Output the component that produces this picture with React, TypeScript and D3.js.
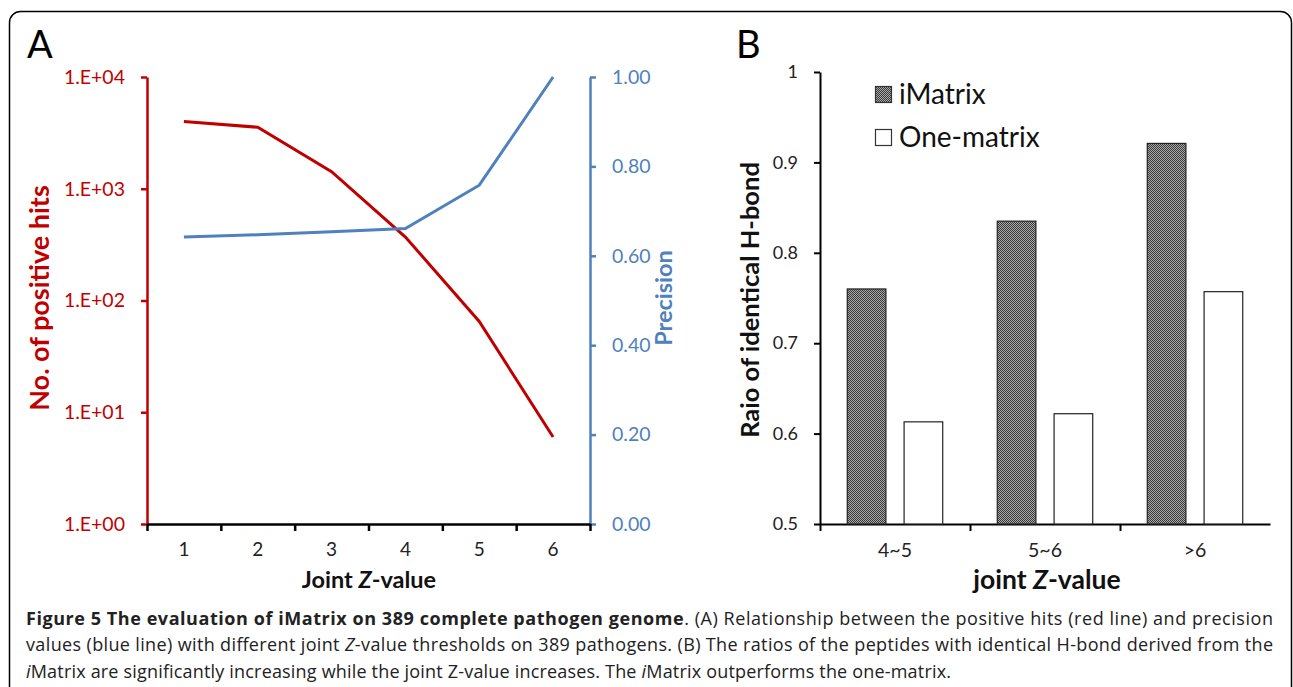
import React, { useRef, useEffect } from 'react';
import * as d3 from 'd3';

// Panel A data
const zValues = ['1', '2', '3', '4', '5', '6'];
const positiveHits = [4000, 3550, 1420, 370, 65, 6];
const precision = [0.642, 0.647, 0.654, 0.661, 0.758, 1.0];
const hitTicks = [1, 10, 100, 1000, 10000];
const precisionTicks = [0, 0.2, 0.4, 0.6, 0.8, 1.0];

// Panel B data
const zBins = ['4~5', '5~6', '>6'];
const seriesNames = ['iMatrix', 'One-matrix'];
const iMatrixRatio = [0.76, 0.835, 0.921];
const oneMatrixRatio = [0.613, 0.622, 0.757];
const ratioTicks = [0.5, 0.6, 0.7, 0.8, 0.9, 1];

const RED = '#c00000';
const BLUE = '#4f81bd';
const FONT = 'Lato, "Open Sans", sans-serif';
const CAP_FONT = '"Open Sans", Lato, sans-serif';

export default function App() {
  const svgRef = useRef<SVGSVGElement>(null);

  useEffect(() => {
    const svg = d3.select(svgRef.current);
    svg.selectAll('*').remove();

    // pattern for iMatrix bars
    const defs = svg.append('defs');
    const pat = defs.append('pattern')
      .attr('id', 'dots')
      .attr('width', 2).attr('height', 2)
      .attr('patternUnits', 'userSpaceOnUse');
    pat.append('rect').attr('width', 2).attr('height', 2).attr('fill', '#aaaaaa');
    pat.append('rect').attr('width', 1).attr('height', 1).attr('fill', '#383838');
    pat.append('rect').attr('x', 1).attr('y', 1).attr('width', 1).attr('height', 1).attr('fill', '#383838');

    // frame
    svg.append('rect')
      .attr('x', 9.5).attr('y', 11.5)
      .attr('width', 1282).attr('height', 720)
      .attr('rx', 11)
      .attr('fill', 'none')
      .attr('stroke', '#000')
      .attr('stroke-width', 1.5);

    // ---------- Panel A ----------
    svg.append('text').attr('x', 27).attr('y', 58)
      .style('font-family', FONT).style('font-size', '38px').text('A');

    const xA = d3.scaleBand().domain(zValues).range([147, 590]);
    const xAEdges = d3.scaleLinear().domain([0, zValues.length]).range([147, 590]);
    const yHits = d3.scaleLog().domain([1, 10000]).range([524, 77]);
    const yPrec = d3.scaleLinear().domain([0, 1]).range([524, 77]);

    const leftAxis = svg.append('g')
      .attr('transform', 'translate(147,0)')
      .call(d3.axisLeft(yHits).tickValues(hitTicks)
        .tickFormat(d => `1.E+0${Math.round(Math.log10(+d))}`)
        .tickSize(6).tickSizeOuter(0).tickPadding(16));
    leftAxis.selectAll('path, line').attr('stroke', RED).attr('stroke-width', 2.5);
    leftAxis.selectAll('text').attr('fill', RED)
      .style('font-family', FONT).style('font-size', '19.5px');

    const rightAxis = svg.append('g')
      .attr('transform', 'translate(590,0)')
      .call(d3.axisRight(yPrec).tickValues(precisionTicks)
        .tickFormat(d3.format('.2f'))
        .tickSize(6).tickSizeOuter(0).tickPadding(16));
    rightAxis.selectAll('path, line').attr('stroke', BLUE).attr('stroke-width', 2.5);
    rightAxis.selectAll('text').attr('fill', BLUE)
      .style('font-family', FONT).style('font-size', '19.5px');

    // x axis: boundary ticks + centered labels
    const xTicks = svg.append('g')
      .attr('transform', 'translate(0,524)')
      .call(d3.axisBottom(xAEdges).tickValues(d3.range(zValues.length + 1))
        .tickFormat(() => '').tickSize(7).tickSizeOuter(0));
    xTicks.selectAll('path, line').attr('stroke', '#000').attr('stroke-width', 2.5);
    const xLabels = svg.append('g')
      .attr('transform', 'translate(0,524)')
      .call(d3.axisBottom(xA).tickSize(0).tickPadding(19));
    xLabels.select('.domain').remove();
    xLabels.selectAll('text').attr('fill', '#222')
      .style('font-family', FONT).style('font-size', '19px');

    const cx = (d: string) => (xA(d) as number) + xA.bandwidth() / 2;

    const hitLine = d3.line<number>()
      .x((_, i) => cx(zValues[i]))
      .y(d => yHits(d));
    svg.append('path').datum(positiveHits)
      .attr('d', hitLine)
      .attr('fill', 'none').attr('stroke', RED).attr('stroke-width', 3);

    const precLine = d3.line<number>()
      .x((_, i) => cx(zValues[i]))
      .y(d => yPrec(d));
    svg.append('path').datum(precision)
      .attr('d', precLine)
      .attr('fill', 'none').attr('stroke', BLUE).attr('stroke-width', 3);

    // titles
    const tA = svg.append('text').attr('x', 369).attr('y', 588)
      .attr('text-anchor', 'middle')
      .style('font-family', FONT).style('font-size', '23.5px').style('font-weight', 'bold')
      .attr('fill', '#111');
    tA.append('tspan').text('Joint ');
    tA.append('tspan').style('font-style', 'italic').text('Z');
    tA.append('tspan').text('-value');

    svg.append('text')
      .attr('transform', 'translate(49,298) rotate(-90)')
      .attr('text-anchor', 'middle')
      .attr('fill', RED)
      .style('font-family', FONT).style('font-size', '27px').style('font-weight', 'bold')
      .text('No. of positive hits');

    svg.append('text')
      .attr('transform', 'translate(672,298) rotate(-90)')
      .attr('text-anchor', 'middle')
      .attr('fill', BLUE)
      .style('font-family', FONT).style('font-size', '23.5px').style('font-weight', 'bold')
      .text('Precision');

    // ---------- Panel B ----------
    svg.append('text').attr('x', 736).attr('y', 58)
      .style('font-family', FONT).style('font-size', '38px').text('B');

    const xB = d3.scaleBand().domain(zBins).range([820, 1270]);
    const xSub = d3.scaleBand().domain(seriesNames).range([0, xB.bandwidth()])
      .paddingInner(0.32).paddingOuter(0.48);
    const yB = d3.scaleLinear().domain([0.5, 1]).range([524, 72]);

    const yAxisB = svg.append('g')
      .attr('transform', 'translate(820,0)')
      .call(d3.axisLeft(yB).tickValues(ratioTicks)
        .tickFormat(d => String(+d))
        .tickSize(6).tickSizeOuter(0).tickPadding(16));
    yAxisB.selectAll('path, line').attr('stroke', '#000').attr('stroke-width', 2);
    yAxisB.selectAll('text').attr('fill', '#222')
      .style('font-family', FONT).style('font-size', '18px');

    const xEdgesB = d3.scaleLinear().domain([0, zBins.length]).range([820, 1270]);
    const xTicksB = svg.append('g')
      .attr('transform', 'translate(0,524)')
      .call(d3.axisBottom(xEdgesB).tickValues([0, 1, 2])
        .tickFormat(() => '').tickSize(7).tickSizeOuter(0));
    xTicksB.selectAll('path, line').attr('stroke', '#000').attr('stroke-width', 2);
    const xLabelsB = svg.append('g')
      .attr('transform', 'translate(0,524)')
      .call(d3.axisBottom(xB).tickSize(0).tickPadding(19));
    xLabelsB.select('.domain').remove();
    xLabelsB.selectAll('text').attr('fill', '#222')
      .style('font-family', FONT).style('font-size', '19.5px');

    const barData = zBins.flatMap((bin, i) => [
      { bin, series: seriesNames[0], value: iMatrixRatio[i] },
      { bin, series: seriesNames[1], value: oneMatrixRatio[i] },
    ]);
    svg.append('g').selectAll('rect')
      .data(barData)
      .enter()
      .append('rect')
      .attr('x', d => (xB(d.bin) as number) + (xSub(d.series) as number))
      .attr('y', d => yB(d.value))
      .attr('width', xSub.bandwidth())
      .attr('height', d => 524 - yB(d.value))
      .attr('fill', d => d.series === 'iMatrix' ? 'url(#dots)' : '#fff')
      .attr('stroke', '#222')
      .attr('stroke-width', 1.2);

    // legend
    const legend = svg.append('g').attr('transform', 'translate(875,86)');
    seriesNames.forEach((name, i) => {
      const g = legend.append('g').attr('transform', `translate(0,${i * 43})`);
      g.append('rect').attr('x', 0.5).attr('y', 0.5).attr('width', 16).attr('height', 16)
        .attr('fill', i === 0 ? 'url(#dots)' : '#fff')
        .attr('stroke', '#333').attr('stroke-width', 1.2);
      g.append('text').attr('x', 24).attr('y', 18)
        .attr('fill', '#111')
        .style('font-family', FONT).style('font-size', '28px')
        .text(name);
    });

    const tB = svg.append('text').attr('x', 1047).attr('y', 589)
      .attr('text-anchor', 'middle')
      .style('font-family', FONT).style('font-size', '26.5px').style('font-weight', 'bold')
      .attr('fill', '#111');
    tB.append('tspan').text('joint ');
    tB.append('tspan').style('font-style', 'italic').text('Z');
    tB.append('tspan').text('-value');

    svg.append('text')
      .attr('transform', 'translate(759,300) rotate(-90)')
      .attr('text-anchor', 'middle')
      .attr('fill', '#111')
      .style('font-family', FONT).style('font-size', '25.5px').style('font-weight', 'bold')
      .text('Raio of identical H-bond');

    // ---------- Caption ----------
    const cap = svg.append('g')
      .style('font-family', CAP_FONT).style('font-size', '18px').attr('fill', '#222');
    const l1 = cap.append('text').attr('x', 26).attr('y', 625)
      .attr('textLength', 1247).attr('lengthAdjust', 'spacing');
    l1.append('tspan').style('font-weight', 'bold').text('Figure 5 The evaluation of iMatrix on 389 complete pathogen genome');
    l1.append('tspan').text('. (A) Relationship between the positive hits (red line) and precision');

    const l2 = cap.append('text').attr('x', 26).attr('y', 651)
      .attr('textLength', 1247).attr('lengthAdjust', 'spacing');
    l2.append('tspan').text('values (blue line) with different joint ');
    l2.append('tspan').style('font-style', 'italic').text('Z');
    l2.append('tspan').text('-value thresholds on 389 pathogens. (B) The ratios of the peptides with identical H-bond derived from the');

    const l3 = cap.append('text').attr('x', 26).attr('y', 678)
      .attr('textLength', 925).attr('lengthAdjust', 'spacing');
    l3.append('tspan').style('font-style', 'italic').text('i');
    l3.append('tspan').text('Matrix are significantly increasing while the joint Z-value increases. The ');
    l3.append('tspan').style('font-style', 'italic').text('i');
    l3.append('tspan').text('Matrix outperforms the one-matrix.');
  }, []);

  return (
    <svg
      ref={svgRef}
      width={1293}
      height={687}
      style={{ position: 'absolute', left: 0, top: 0, background: '#fff' }}
    />
  );
}
